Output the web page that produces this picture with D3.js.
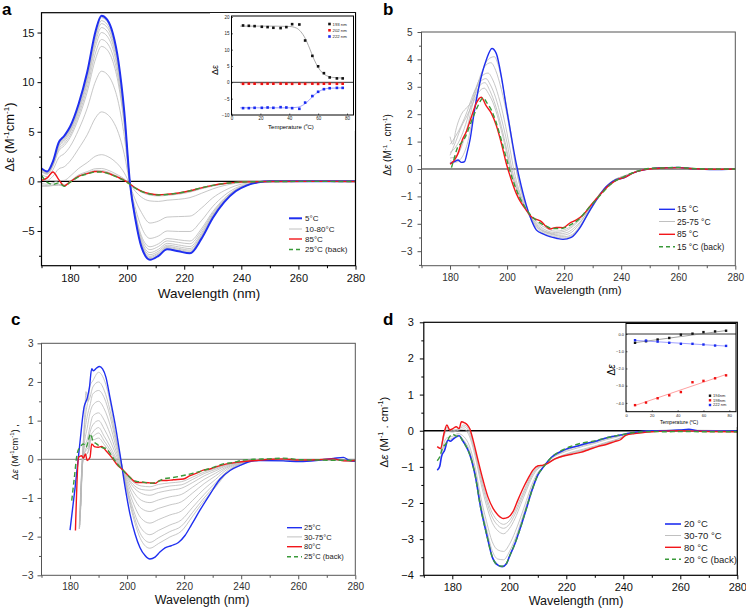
<!DOCTYPE html>
<html><head><meta charset="utf-8">
<script src="https://cdn.jsdelivr.net/npm/d3@7"></script>
<style>body{margin:0;background:#fff}svg{display:block}text{font-family:"Liberation Sans",Arial,Helvetica,sans-serif}</style>
</head><body><svg id="c" width="746" height="609"></svg>
<script>
// ---------------- DATA ----------------
// Panel a: shared wavelength grid (nm)
const waveA = [170,172,174,176,178,180,183,186,189,191,193,195,197,199,201,203,205,208,211,214,218,222,226,230,234,238,242,246,250,265,280];
const a5C   = [1.3,1.0,2.0,3.9,4.6,5.5,7.8,11.0,15.2,16.7,16.3,14.9,12.0,7.0,-0.2,-4.0,-6.6,-7.9,-7.5,-6.85,-7.05,-7.25,-5.8,-3.7,-2.1,-1.0,-0.4,-0.1,0,0.02,0];
const a85C  = [0.1,0.35,0.95,0.2,-0.45,-0.05,0.5,0.78,1.0,0.98,0.85,0.62,0.38,0.1,-0.27,-0.68,-0.98,-1.25,-1.35,-1.3,-1.17,-0.95,-0.65,-0.4,-0.22,-0.1,-0.05,-0.03,-0.02,0,-0.02];
const a25Back = [0.6,-0.1,-0.3,-0.15,-0.5,-0.1,0.45,0.75,0.95,0.95,0.82,0.6,0.35,0.08,-0.3,-0.7,-1.0,-1.28,-1.37,-1.32,-1.18,-0.95,-0.65,-0.4,-0.22,-0.1,-0.05,-0.03,-0.02,0,-0.02];
const aGray = [
 [1.28,0.98,1.97,3.84,4.53,5.43,7.71,10.87,15.02,16.5,16.1,14.71,11.85,6.91,-0.2,-3.96,-6.53,-7.81,-7.42,-6.78,-6.97,-7.17,-5.73,-3.66,-2.08,-0.99,-0.4,-0.1,0,0.02,0],
 [1.25,0.95,1.92,3.76,4.44,5.32,7.57,10.67,14.75,16.2,15.81,14.44,11.63,6.78,-0.2,-3.89,-6.42,-7.69,-7.3,-6.67,-6.86,-7.05,-5.64,-3.59,-2.04,-0.97,-0.39,-0.1,0,0.02,0],
 [1.21,0.93,1.88,3.68,4.34,5.21,7.43,10.48,14.48,15.9,15.51,14.17,11.41,6.65,-0.2,-3.83,-6.31,-7.56,-7.19,-6.57,-6.75,-6.93,-5.54,-3.53,-2.0,-0.95,-0.38,-0.1,0,0.02,0],
 [1.17,0.89,1.82,3.57,4.22,5.07,7.25,10.22,14.12,15.5,15.13,13.81,11.12,6.48,-0.21,-3.75,-6.17,-7.39,-7.03,-6.43,-6.6,-6.77,-5.41,-3.45,-1.96,-0.93,-0.37,-0.09,0,0.02,0],
 [1.12,0.84,1.74,3.44,4.05,4.9,7.01,9.9,13.67,15.0,14.63,13.36,10.75,6.25,-0.21,-3.64,-5.99,-7.18,-6.84,-6.25,-6.41,-6.57,-5.24,-3.34,-1.9,-0.9,-0.36,-0.09,0,0.02,0],
 [1.04,0.78,1.63,3.24,3.83,4.64,6.68,9.44,13.03,14.3,13.94,12.72,10.22,5.94,-0.21,-3.49,-5.74,-6.88,-6.56,-6.0,-6.15,-6.29,-5.01,-3.2,-1.81,-0.86,-0.35,-0.09,0,0.02,0],
 [0.97,0.71,1.53,3.05,3.61,4.4,6.36,8.99,12.4,13.6,13.26,12.09,9.71,5.64,-0.21,-3.35,-5.49,-6.59,-6.29,-5.76,-5.89,-6.01,-4.79,-3.05,-1.73,-0.82,-0.33,-0.09,0,0.02,0],
 [0.69,0.48,1.15,2.37,2.8,3.51,5.2,7.36,10.14,11.1,10.8,9.82,7.86,4.54,-0.22,-2.82,-4.6,-5.75,-5.5,-5.0,-5.05,-5.05,-3.97,-2.53,-1.43,-0.68,-0.28,-0.08,0,0.01,0],
 [0.25,0.11,0.52,1.25,1.48,2.04,3.3,4.69,6.44,7.0,6.77,6.09,4.83,2.74,-0.25,-1.95,-3.13,-4.2,-4.0,-3.6,-3.55,-3.5,-2.7,-1.66,-0.94,-0.44,-0.18,-0.06,-0.01,0.01,-0.01],
 [-0.21,-0.29,-0.14,0.07,0.1,0.51,1.3,1.89,2.55,2.69,2.53,2.18,1.65,0.85,-0.26,-1.04,-1.59,-1.97,-2.02,-1.9,-1.81,-1.64,-1.21,-0.76,-0.42,-0.2,-0.09,-0.04,-0.02,0,-0.02],
 [-0.37,-0.42,-0.35,-0.31,-0.35,0.01,0.65,0.98,1.28,1.3,1.16,0.91,0.61,0.24,-0.27,-0.75,-1.09,-1.38,-1.47,-1.41,-1.29,-1.08,-0.75,-0.47,-0.26,-0.12,-0.06,-0.03,-0.02,0,-0.02],
 [-0.5,-0.5,-0.42,-0.4,-0.45,-0.06,0.56,0.86,1.11,1.1,0.97,0.73,0.47,0.16,-0.27,-0.71,-1.03,-1.3,-1.4,-1.34,-1.22,-1.0,-0.69,-0.43,-0.24,-0.11,-0.05,-0.03,-0.02,0,-0.02]
];
// Panel a inset: temperature melt
const insetATemp = [8,12,16,21,25,29,34,38,42,47,51,56,60,64,68,73,77];
const insetA193 = [17.4,17.3,17.2,17.0,16.9,16.7,16.6,16.9,17.8,17.7,12.8,8.1,4.9,2.8,1.5,1.2,1.2];
const insetA202 = [-0.45,-0.4,-0.42,-0.45,-0.4,-0.42,-0.4,-0.43,-0.45,-0.42,-0.45,-0.4,-0.47,-0.42,-0.4,-0.44,-0.42];
const insetA222 = [-7.9,-7.9,-7.8,-7.8,-7.7,-7.8,-7.6,-7.7,-7.9,-8.1,-6.2,-4.2,-2.9,-2.1,-1.8,-1.7,-1.7];
const insetAFit193 = [[6,17.2],[20,17.2],[30,17.2],[40,17.1],[45,16.6],[48,15.5],[51,13.5],[54,10.5],[57,7.2],[60,4.6],[63,2.9],[66,2.0],[70,1.5],[78,1.3]];
const insetAFit202 = [[6,-0.42],[78,-0.42]];
const insetAFit222 = [[6,-7.8],[40,-7.8],[46,-7.6],[49,-7.1],[52,-6.2],[55,-4.9],[58,-3.6],[61,-2.7],[64,-2.1],[68,-1.8],[78,-1.7]];

// Panel b: [wavelength, value] pairs
const b15C = [[180,0.2],[181.6,0.27],[182.8,0.33],[184,0.24],[185.1,0.27],[186,0.6],[187,1.06],[188.6,2.15],[190.4,3.13],[192.7,3.98],[194.7,4.4],[196.2,4.22],[198,3.37],[199.7,2.27],[201.5,1.18],[203.2,0.2],[205,-0.64],[206.7,-1.31],[208.5,-1.86],[210.3,-2.23],[212.6,-2.37],[215,-2.47],[217.3,-2.53],[219.6,-2.57],[222.5,-2.5],[225.4,-2.17],[228.4,-1.62],[231.3,-1.13],[234.8,-0.64],[238,-0.4],[241,-0.32],[244,-0.15],[248,-0.03],[252,0.03],[256,0.05],[260,0.06],[264,0.02],[268,0.0],[272,-0.02],[280,0]];
const b85C = [[180,0.18],[181.6,0.33],[182.8,0.57],[184.3,1.06],[185.7,1.36],[187.5,1.91],[189.2,2.4],[190.9,2.62],[192.7,2.3],[194.5,2.03],[196.2,1.6],[198,0.94],[199.7,0.21],[201.5,-0.4],[203.2,-0.89],[205,-1.25],[206.7,-1.5],[208.5,-1.74],[210.8,-1.86],[212,-1.92],[213.2,-2.05],[215,-2.19],[217.3,-2.13],[219.6,-2.14],[221.9,-1.98],[224.3,-1.86],[226.6,-1.68],[229,-1.37],[232.5,-0.95],[235.9,-0.58],[238.9,-0.38],[241.8,-0.28],[244,-0.15],[248,-0.03],[252,0.02],[256,0.04],[260,0.05],[264,0.02],[268,0],[272,-0.01],[280,0]];
const b15Back = [[180.5,0.05],[181.5,0.4],[182.5,0.75],[184,0.95],[185.5,1.2],[187,1.6],[188.5,2.0],[190,2.35],[191.6,2.6],[193,2.4],[194.5,2.15],[196,1.75],[198,1.05],[200,0.3],[202,-0.4],[204,-0.95],[206,-1.35],[208,-1.65],[210,-1.85],[213,-2.05],[216,-2.17],[219,-2.17],[222,-2.05],[225,-1.85],[228,-1.5],[231,-1.15],[234,-0.8],[237,-0.5],[240,-0.33],[243,-0.18],[246,-0.07],[250,0.02],[255,0.04],[260,0.06],[265,0.02],[270,0],[280,0]];
const bGray = [
 [[180,0.3],[182,0.25],[184,0.4],[186,0.9],[188,1.9],[190,2.95],[192,3.75],[194,4.05],[195.5,4.1],[197,3.75],[199,2.75],[201,1.55],[203,0.1],[205,-0.8],[207,-1.45],[209,-1.95],[212,-2.3],[216,-2.45],[220,-2.52],[223,-2.42],[226,-2.05],[229,-1.55],[232,-1.05],[235,-0.62],[238,-0.38],[241,-0.3],[244,-0.15],[248,-0.03],[254,0.04],[260,0.05],[268,0],[280,0]],
 [[180,0.4],[182,0.45],[184,0.8],[186,1.5],[188,2.4],[190,3.2],[192,3.72],[194.3,3.88],[196,3.6],[198,2.9],[200,1.95],[202,0.75],[203.5,-0.15],[205,-0.85],[207,-1.45],[209,-1.9],[212,-2.25],[216,-2.4],[220,-2.47],[223,-2.38],[226,-2.0],[229,-1.52],[232,-1.03],[235,-0.62],[238,-0.38],[241,-0.3],[244,-0.15],[248,-0.03],[254,0.04],[260,0.05],[268,0],[280,0]],
 [[180,0.6],[182,0.8],[184,1.2],[186,1.8],[188,2.6],[190,3.2],[191.5,3.42],[193.3,3.5],[195,3.25],[197,2.65],[199,1.8],[201,0.75],[202.5,-0.1],[204,-0.7],[206,-1.3],[208,-1.75],[211,-2.15],[215,-2.35],[219,-2.42],[222,-2.35],[225,-2.05],[228,-1.6],[231,-1.12],[234,-0.72],[237,-0.45],[240,-0.3],[243,-0.18],[247,-0.05],[252,0.03],[260,0.05],[268,0],[280,0]],
 [[180,0.9],[182,1.2],[184,1.6],[186,2.1],[188,2.7],[190,3.1],[192.6,3.3],[194,3.1],[196,2.6],[198,1.85],[200,0.95],[201.8,-0.05],[203.5,-0.65],[205.5,-1.2],[208,-1.7],[211,-2.1],[214,-2.3],[218,-2.37],[221,-2.32],[224,-2.1],[227,-1.75],[230,-1.25],[233,-0.85],[236,-0.55],[239,-0.33],[242,-0.22],[246,-0.07],[252,0.03],[260,0.05],[268,0],[280,0]],
 [[180,1.18],[181,0.9],[182,1.4],[184,2.0],[186,2.25],[187.5,2.45],[189,2.75],[190.5,3.05],[192.2,3.15],[194,2.85],[196,2.3],[198,1.55],[200,0.65],[201.4,-0.05],[203,-0.6],[205,-1.15],[207.5,-1.65],[210,-1.95],[213,-2.2],[217,-2.32],[220,-2.28],[223,-2.1],[226,-1.8],[229,-1.4],[232,-0.98],[235,-0.62],[238,-0.38],[241,-0.27],[245,-0.1],[250,0.01],[258,0.05],[268,0],[280,0]],
 [[180,0.5],[182,1.0],[184,1.55],[186,1.95],[188,2.4],[190,2.8],[192,2.95],[193.5,2.75],[195.5,2.3],[197.5,1.6],[199.5,0.75],[201.2,-0.05],[203,-0.65],[205,-1.15],[207.5,-1.6],[210,-1.9],[213,-2.12],[217,-2.27],[220,-2.22],[223,-2.05],[226,-1.75],[229,-1.38],[232,-0.97],[235,-0.6],[238,-0.37],[241,-0.27],[245,-0.1],[250,0.01],[258,0.05],[268,0],[280,0]]
];

// Panel c
const c25C = [[180,-1.83],[181.8,-0.72],[183.3,0.31],[184.9,1.34],[186.1,1.6],[186.8,1.86],[187.6,2.34],[188.2,2.29],[189.3,2.36],[190.3,2.4],[191.4,2.34],[192.6,2.12],[194,1.6],[195.8,0.91],[197.5,0.14],[199.3,-0.72],[201,-1.41],[202.8,-1.93],[204.5,-2.28],[206.3,-2.49],[208,-2.58],[209.8,-2.53],[211.5,-2.4],[213.3,-2.29],[215.6,-2.23],[218,-2.15],[220.3,-1.97],[222.6,-1.69],[225.6,-1.31],[229.1,-0.9],[232.6,-0.51],[236.1,-0.29],[239.6,-0.16],[242.5,-0.07],[246.6,-0.03],[254.7,-0.04],[260.6,-0.06],[267.6,-0.02],[272.3,0.02],[275.8,0.05],[278,-0.03],[280,-0.05]];
const c80C = [[181.9,-1.84],[183,0.05],[184.1,0.09],[184.7,0.03],[185.4,0.14],[186,-0.03],[187,0.05],[187.6,0.4],[188.5,0.33],[189.9,0.31],[191.1,0.33],[192.6,0.22],[194.6,0.05],[196.3,-0.12],[198.7,-0.29],[200.4,-0.42],[202.2,-0.55],[203.4,-0.6],[205.7,-0.6],[208,-0.61],[209.8,-0.62],[211.5,-0.55],[213.9,-0.55],[216.2,-0.53],[219.7,-0.51],[222.1,-0.42],[224.4,-0.36],[226.7,-0.28],[229.1,-0.25],[231.4,-0.19],[234.9,-0.12],[238.4,-0.08],[241.9,-0.05],[245.4,-0.03],[250.1,0.0],[254.7,0.01],[260.6,-0.02],[266.4,-0.01],[272.3,0.01],[276,-0.04],[280,-0.03]];
const c25Back = [[180.6,-1.07],[181.4,-0.55],[182.6,0.18],[183.5,0.31],[184.7,0.4],[185.6,0.31],[186.4,0.48],[187.2,0.66],[188,0.48],[189.3,0.4],[191.1,0.31],[192.8,0.27],[194.6,0.09],[196.3,-0.09],[198.1,-0.25],[199.8,-0.38],[201.6,-0.51],[203.4,-0.57],[205.7,-0.59],[208,-0.62],[210.4,-0.59],[212.7,-0.51],[216.2,-0.47],[219.7,-0.42],[223.2,-0.36],[226.7,-0.29],[230.2,-0.21],[233.7,-0.12],[237.2,-0.08],[240.7,-0.02],[244.2,0],[248.9,0.01],[254.7,0.03],[260.6,-0.01],[267.6,-0.02],[280,-0.03]];
const cGray = [
 [[183.2,-1.8],[184,-0.4],[185,0.9],[185.6,1.75],[186.3,1.5],[187,1.9],[188,2.03],[190,2.25],[192,2.05],[194,1.5],[196,0.63],[198,-0.08],[200,-0.83],[202,-1.45],[205,-2.1],[208,-2.3],[211,-2.18],[215,-2.01],[219,-1.86],[223,-1.47],[227,-1.07],[231,-0.72],[235,-0.36],[240,-0.12],[246,-0.03],[255,-0.03],[265,-0.02],[280,-0.04]],
 [[183.3,-1.8],[184.1,-0.3],[185,0.8],[186,1.4],[187,1.6],[188,1.87],[190,2.0],[192,1.78],[194,1.27],[196,0.57],[198,-0.09],[200,-0.79],[202,-1.36],[205,-1.97],[208,-2.15],[211,-2.03],[215,-1.87],[219,-1.73],[223,-1.37],[227,-1.0],[231,-0.67],[235,-0.34],[240,-0.11],[246,-0.03],[255,-0.03],[265,-0.02],[280,-0.04]],
 [[183.4,-1.75],[184.2,-0.2],[185,0.6],[186,1.1],[187,1.4],[188,1.69],[190,1.78],[192,1.59],[194,1.12],[196,0.48],[198,-0.11],[200,-0.74],[202,-1.26],[205,-1.79],[208,-1.95],[211,-1.84],[215,-1.7],[219,-1.57],[223,-1.24],[227,-0.91],[231,-0.61],[235,-0.31],[240,-0.1],[246,-0.03],[255,-0.03],[265,-0.02],[280,-0.04]],
 [[183.5,-1.7],[184.3,-0.2],[185,0.4],[186,0.8],[187,1.2],[188,1.4],[190,1.5],[192,1.3],[194,0.9],[196,0.36],[198,-0.14],[200,-0.66],[202,-1.1],[205,-1.53],[208,-1.65],[211,-1.56],[215,-1.44],[219,-1.34],[223,-1.06],[227,-0.77],[231,-0.52],[235,-0.26],[240,-0.09],[246,-0.03],[255,-0.03],[265,-0.02],[280,-0.04]],
 [[183.5,-1.6],[184.3,-0.2],[185,0.3],[186,0.5],[187,0.85],[188,1.12],[190,1.2],[192,1.01],[194,0.67],[196,0.24],[198,-0.17],[200,-0.58],[202,-0.94],[205,-1.27],[208,-1.35],[211,-1.27],[215,-1.18],[219,-1.1],[223,-0.87],[227,-0.63],[231,-0.43],[235,-0.22],[240,-0.08],[246,-0.02],[255,-0.03],[265,-0.02],[280,-0.04]],
 [[183.6,-1.5],[184.4,-0.1],[185.2,0.2],[186.2,0.4],[187,0.7],[188,0.89],[190,1.0],[192,0.78],[194,0.49],[196,0.14],[198,-0.2],[200,-0.52],[202,-0.81],[205,-1.06],[208,-1.12],[211,-1.05],[215,-0.97],[219,-0.91],[223,-0.72],[227,-0.52],[231,-0.36],[235,-0.19],[240,-0.07],[246,-0.02],[255,-0.03],[265,-0.02],[280,-0.04]],
 [[183.6,-1.4],[184.4,0],[185.3,0.2],[186.3,0.3],[187.2,0.6],[188,0.7],[190,0.82],[192,0.59],[194,0.34],[196,0.05],[198,-0.22],[200,-0.47],[202,-0.7],[205,-0.88],[208,-0.93],[211,-0.86],[215,-0.8],[219,-0.75],[223,-0.6],[227,-0.43],[231,-0.3],[235,-0.16],[240,-0.06],[246,-0.02],[255,-0.03],[265,-0.02],[280,-0.04]],
 [[183.7,-1.3],[184.5,0],[185.5,0.1],[186.5,0.25],[187.3,0.55],[188,0.59],[190,0.68],[192,0.47],[194,0.25],[196,0.0],[198,-0.23],[200,-0.44],[202,-0.64],[205,-0.78],[208,-0.8],[211,-0.75],[215,-0.69],[219,-0.66],[223,-0.52],[227,-0.37],[231,-0.26],[235,-0.14],[240,-0.06],[246,-0.02],[255,-0.03],[265,-0.02],[280,-0.04]],
 [[183.8,-1.2],[184.6,0],[185.5,0.1],[186.5,0.2],[187.3,0.5],[188,0.5],[190,0.55],[192,0.38],[194,0.18],[196,-0.04],[198,-0.24],[200,-0.42],[202,-0.58],[205,-0.69],[208,-0.71],[211,-0.65],[215,-0.61],[219,-0.58],[223,-0.46],[227,-0.33],[231,-0.23],[235,-0.12],[240,-0.05],[246,-0.02],[255,-0.03],[265,-0.02],[280,-0.04]]
];

// Panel d
const d20C = [[174.7,-1.09],[175.6,-0.98],[176.2,-0.72],[177.3,-0.54],[178.5,-0.26],[179.3,-0.29],[180.2,-0.24],[181.4,-0.17],[182.4,-0.14],[183.5,-0.26],[184.9,-0.44],[186,-0.63],[188,-1.23],[190,-2.15],[192,-2.85],[194,-3.49],[196,-3.72],[197.5,-3.76],[199,-3.68],[200,-3.49],[202,-3.12],[204,-2.66],[206,-2.15],[208,-1.64],[210,-1.23],[212,-1.0],[215,-0.72],[218,-0.58],[221,-0.48],[224,-0.42],[227,-0.35],[230,-0.3],[233,-0.22],[236,-0.16],[239,-0.12],[242,-0.07],[246,-0.02],[250,0],[255,0.0],[260,0.02],[263,0.04],[266,0.0],[270,-0.01],[280,-0.01]];
const d80C = [[174.7,-0.44],[175.9,-0.49],[177.1,-0.07],[178.1,0.16],[179.1,0.02],[180.2,0.06],[181.4,0.11],[182.4,0.06],[183.2,0.25],[184.3,0.22],[185.3,0.16],[186.1,0.06],[187.3,-0.26],[189,-0.81],[190.8,-1.37],[192.5,-1.83],[194.3,-2.15],[196,-2.33],[198,-2.43],[199.5,-2.4],[201.3,-2.24],[203,-1.92],[204.8,-1.6],[206.6,-1.32],[208.3,-1.09],[210.1,-0.97],[211.9,-0.95],[213,-0.92],[216,-0.78],[219,-0.7],[222,-0.65],[225,-0.6],[228,-0.52],[231,-0.44],[234,-0.38],[237,-0.3],[239,-0.25],[241,-0.12],[244,-0.08],[247,-0.05],[250,-0.03],[255,-0.01],[260,0],[265,-0.01],[270,-0.02],[280,-0.03]];
const d20Back = [[174.7,-0.83],[175.6,-0.72],[176.5,-0.49],[177.9,-0.35],[179,-0.17],[180.2,-0.1],[181.4,-0.15],[182.4,-0.14],[183.5,-0.26],[184.9,-0.44],[186,-0.63],[188,-1.23],[190,-2.15],[192,-2.85],[194,-3.49],[196,-3.72],[197.5,-3.75],[199,-3.67],[200,-3.49],[202,-3.12],[204,-2.66],[206,-2.15],[208,-1.64],[210,-1.23],[212,-1.0],[215,-0.72],[218,-0.56],[221,-0.45],[225,-0.35],[230,-0.28],[235,-0.18],[240,-0.1],[244,-0.05],[250,-0.02],[255,-0.03],[260,-0.02],[270,-0.03],[280,-0.03]];
const waveDGray = [176,178,180,182,184,186,188,190,192,194,196,198,200,202,204,206,208,210,212,215,218,222,226,230,234,238,242,246,250,260,280];
const dGray = [
 [-0.71,-0.29,-0.21,-0.12,-0.26,-0.54,-1.14,-2.02,-2.71,-3.32,-3.55,-3.57,-3.35,-3.0,-2.55,-2.06,-1.58,-1.2,-0.99,-0.74,-0.6,-0.48,-0.4,-0.32,-0.22,-0.15,-0.07,-0.02,0,0.02,-0.01],
 [-0.66,-0.2,-0.16,-0.08,-0.16,-0.42,-1.0,-1.84,-2.51,-3.07,-3.3,-3.34,-3.15,-2.81,-2.39,-1.93,-1.48,-1.16,-0.99,-0.76,-0.63,-0.52,-0.43,-0.35,-0.25,-0.17,-0.08,-0.03,-0.01,0.01,-0.02],
 [-0.55,-0.01,-0.04,0.01,0.05,-0.15,-0.7,-1.44,-2.07,-2.54,-2.77,-2.85,-2.71,-2.43,-2.04,-1.65,-1.29,-1.06,-0.97,-0.81,-0.7,-0.59,-0.51,-0.42,-0.32,-0.23,-0.09,-0.05,-0.02,0.01,-0.02],
 [-0.51,0.05,0.0,0.03,0.11,-0.07,-0.61,-1.32,-1.94,-2.39,-2.62,-2.7,-2.59,-2.31,-1.94,-1.57,-1.23,-1.03,-0.96,-0.82,-0.71,-0.61,-0.54,-0.44,-0.34,-0.24,-0.09,-0.05,-0.02,0,-0.03],
 [-0.49,0.09,0.02,0.05,0.16,0.0,-0.54,-1.23,-1.84,-2.27,-2.5,-2.59,-2.49,-2.22,-1.86,-1.51,-1.18,-1.01,-0.96,-0.83,-0.73,-0.63,-0.55,-0.46,-0.36,-0.25,-0.1,-0.06,-0.03,0,-0.03]
];
// Panel d inset
const insetDTemp = [7,15.5,24.5,33.5,42.5,51.5,60,69,77.5];
const insetD194 = [-0.51,-0.42,-0.32,-0.23,-0.04,0.02,0.11,0.15,0.19];
const insetD198 = [-4.13,-3.98,-3.73,-3.56,-3.37,-2.8,-2.72,-2.57,-2.4];
const insetD222 = [-0.36,-0.38,-0.44,-0.51,-0.57,-0.57,-0.61,-0.67,-0.69];
const insetDFit194 = [[7,-0.5],[77.5,0.2]];
const insetDFit198 = [[7,-4.15],[77.5,-2.35]];
const insetDFit222 = [[7,-0.37],[77.5,-0.7]];

const xTicks = [180,200,220,240,260,280];
const xMinor = [170,190,210,230,250,270];
const legendA = ["5°C","10-80°C","85°C","25°C (back)"];
const legendB = ["15 °C","25-75 °C","85 °C","15 °C (back)"];
const legendC = ["25°C","30-75°C","80°C","25°C (back)"];
const legendD = ["20 °C","30-70 °C","80 °C","20 °C (back)"];

// ---------------- DRAW ----------------
const svg = d3.select("#c");
const BLUE="#1f2ff0", RED="#f2161a", GREEN="#3a9a3a", GRAY="#b9b9b9";
let clipN=0;
function rich(t, parts, fs){
  let shift=0;
  parts.forEach(([s,k])=>{
    const ts=t.append("tspan").text(s);
    if(k==='s'){ ts.attr("font-size",fs*0.62).attr("dy",-fs*0.42); shift+=fs*0.42; }
    else { if(shift){ts.attr("dy",shift); shift=0;} if(k==='i') ts.attr("font-style","italic"); }
  });
}
function panel(c){
  const g=svg.append("g");
  const x=d3.scaleLinear().domain([170,280]).range([c.x0,c.x1]);
  const y=d3.scaleLinear().domain(c.yd).range([c.y1,c.y0]);
  const id="clip"+(clipN++);
  g.append("clipPath").attr("id",id).append("rect").attr("x",c.x0).attr("y",c.y0).attr("width",c.x1-c.x0).attr("height",c.y1-c.y0);
  const pl=g.append("g").attr("clip-path",`url(#${id})`);
  pl.append("line").attr("x1",c.x0).attr("x2",c.x1).attr("y1",y(0)).attr("y2",y(0)).attr("stroke",c.zero).attr("stroke-width",c.zeroW);
  const line=d3.line().x(d=>x(d[0])).y(d=>y(d[1])).curve(d3.curveMonotoneX);
  c.gray.forEach(s=>pl.append("path").attr("d",line(s)).attr("fill","none").attr("stroke",GRAY).attr("stroke-width",0.8));
  pl.append("path").attr("d",line(c.blue)).attr("fill","none").attr("stroke",BLUE).attr("stroke-width",c.blueW);
  pl.append("path").attr("d",line(c.red)).attr("fill","none").attr("stroke",RED).attr("stroke-width",1.4);
  pl.append("path").attr("d",line(c.green)).attr("fill","none").attr("stroke",GREEN).attr("stroke-width",1.4).attr("stroke-dasharray","5,3");
  // axes
  const ax=g.append("g").attr("transform",`translate(0,${c.y1})`)
    .call(d3.axisBottom(x).tickValues(xTicks).tickSize(4).tickSizeOuter(0).tickPadding(c.xpad));
  const axm=g.append("g").attr("transform",`translate(0,${c.y1})`)
    .call(d3.axisBottom(x).tickValues(xMinor).tickSize(2.5).tickSizeOuter(0).tickFormat(""));
  const ay=g.append("g").attr("transform",`translate(${c.x0},0)`)
    .call(d3.axisLeft(y).tickValues(c.yt).tickSize(4).tickSizeOuter(0).tickPadding(c.ypad).tickFormat(d3.format("d")));
  const aym=g.append("g").attr("transform",`translate(${c.x0},0)`)
    .call(d3.axisLeft(y).tickValues(c.ym).tickSize(2.5).tickSizeOuter(0).tickFormat(""));
  [ax,axm,ay,aym].forEach(a=>{a.select(".domain").remove(); a.selectAll("line").attr("stroke",c.axc);
    a.selectAll("text").attr("font-size",c.tfs).attr("fill",c.tc).attr("font-family",'"Liberation Sans",Arial,sans-serif');});
  g.append("rect").attr("x",c.x0).attr("y",c.y0).attr("width",c.x1-c.x0).attr("height",c.y1-c.y0)
    .attr("fill","none").attr("stroke",c.axc).attr("stroke-width",c.frameW);
  // titles
  g.append("text").attr("x",c.xtx).attr("y",c.xty).attr("text-anchor","middle").attr("font-size",c.xtfs).attr("fill","#111").text("Wavelength (nm)");
  const yt=g.append("text").attr("transform",`translate(${c.ytx},${c.yty}) rotate(-90)`).attr("text-anchor","middle").attr("font-size",c.ytfs).attr("fill","#111");
  rich(yt,c.ytParts,c.ytfs);
  g.append("text").attr("x",c.lx).attr("y",c.ly).attr("font-size",17).attr("font-weight","bold").text(c.letter);
  // legend
  const cols=[[BLUE,c.blueW,null],[GRAY,0.9,null],[RED,1.4,null],[GREEN,1.4,"4,3"]];
  c.leg.forEach((lab,i)=>{
    const yy=c.legY[i];
    g.append("line").attr("x1",c.legX0).attr("x2",c.legX1).attr("y1",yy).attr("y2",yy).attr("stroke",cols[i][0]).attr("stroke-width",cols[i][1]).attr("stroke-dasharray",cols[i][2]);
    g.append("text").attr("x",c.legTx).attr("y",yy+c.legFs*0.36).attr("font-size",c.legFs).attr("fill","#222").text(lab);
  });
  return {x,y};
}
function inset(c){
  const g=svg.append("g");
  g.append("rect").attr("x",c.bx0).attr("y",c.by0).attr("width",c.bx1-c.bx0).attr("height",c.by1-c.by0).attr("fill","#fff");
  const x=d3.scaleLinear().domain(c.xd).range([c.x0,c.x1]);
  const y=d3.scaleLinear().domain(c.yd).range([c.y1,c.y0]);
  g.append("line").attr("x1",c.x0).attr("x2",c.x1).attr("y1",y(0)).attr("y2",y(0)).attr("stroke","#000").attr("stroke-width",0.8);
  const line=d3.line().x(d=>x(d[0])).y(d=>y(d[1])).curve(d3.curveMonotoneX);
  c.fits.forEach(([s,col])=>g.append("path").attr("d",line(s)).attr("fill","none").attr("stroke",col).attr("stroke-width",0.7));
  c.pts.forEach(([vals,col])=>{
    g.selectAll(null).data(d3.zip(c.temps,vals)).enter().append("rect")
      .attr("x",d=>x(d[0])-c.ms/2).attr("y",d=>y(d[1])-c.ms/2).attr("width",c.ms).attr("height",c.ms).attr("fill",col);
  });
  const ax=g.append("g").attr("transform",`translate(0,${c.y1})`).call(d3.axisBottom(x).tickValues(c.xt).tickSize(-1.5).tickSizeOuter(0).tickPadding(2));
  const ay=g.append("g").attr("transform",`translate(${c.x0},0)`).call(d3.axisLeft(y).tickValues(c.yt).tickSize(-1.5).tickSizeOuter(0).tickPadding(2));
  [ax,ay].forEach(a=>{a.select(".domain").remove(); a.selectAll("line").attr("stroke","#000").attr("stroke-width",0.6);
    a.selectAll("text").attr("font-size",c.tfs).attr("fill","#222");});
  g.append("rect").attr("x",c.x0).attr("y",c.y0).attr("width",c.x1-c.x0).attr("height",c.y1-c.y0).attr("fill","none").attr("stroke","#000").attr("stroke-width",1);
  const yl=g.append("text").attr("transform",`translate(${c.ylx},${c.yly}) rotate(-90)`).attr("text-anchor","middle").attr("font-size",c.ylfs);
  rich(yl,[["Δ","n"],["ε",c.italic?"i":"n"]],c.ylfs);
  const xl=g.append("text").attr("x",c.xlx).attr("y",c.xly).attr("text-anchor","middle").attr("font-size",c.xlfs);
  rich(xl,[["Temperature (","n"],["o","s"],["C)","n"]],c.xlfs);
  c.leg.forEach((lab,i)=>{
    const yy=c.legY[i];
    g.append("rect").attr("x",c.legX-c.ms/2).attr("y",yy-c.ms/2).attr("width",c.ms).attr("height",c.ms).attr("fill",c.pts[i][1]);
    g.append("text").attr("x",c.legX+3).attr("y",yy+c.legFs*0.36).attr("font-size",c.legFs).attr("fill","#222").text(lab);
  });
}
const zipA = arr => d3.zip(waveA, arr);
const zipD = arr => d3.zip(waveDGray, arr);

panel({x0:41.5,x1:355.5,y0:12.7,y1:265.7,yd:[-8.5,17],yt:[-5,0,5,10,15],ym:[-7.5,-2.5,2.5,7.5,12.5],
  gray:aGray.map(zipA),blue:zipA(a5C),red:zipA(a85C),green:zipA(a25Back),blueW:2,
  zero:"#000",zeroW:1.2,axc:"#000",tc:"#111",frameW:1.2,tfs:11,xpad:5,ypad:3,
  xtx:209,xty:298,xtfs:13.5,ytx:14,yty:137,ytfs:13,
  ytParts:[["Δε (M","n"],["-1","s"],["cm","n"],["-1","s"],[")","n"]],
  lx:2,ly:15,letter:"a",leg:legendA,legY:[218.3,229,239,249.5],legX0:289,legX1:302,legTx:305,legFs:8});
inset({bx0:210,bx1:355,by0:13,by1:131,x0:231.5,x1:353.5,y0:16,y1:115,xd:[0,84.5],yd:[-10,20.3],
  xt:[0,20,40,60,80],yt:[-10,-5,0,5,10,15,20],tfs:4.5,ms:2.6,temps:insetATemp,
  pts:[[insetA193,"#111"],[insetA202,"#f01010"],[insetA222,"#1a2cf0"]],
  fits:[[insetAFit193,"#888"],[insetAFit202,"#f88"],[insetAFit222,"#77f"]],
  ylx:218,yly:70,ylfs:9,italic:false,xlx:291,xly:129,xlfs:6,
  leg:["193 nm","202 nm","222 nm"],legY:[24,30.3,36.5],legX:329.5,legFs:4.3});

panel({x0:421.5,x1:735.3,y0:32,y1:265.7,yd:[-3.53,5],yt:[-3,-2,-1,0,1,2,3,4,5],ym:[-3.5,-2.5,-1.5,-0.5,0.5,1.5,2.5,3.5,4.5],
  gray:bGray,blue:b15C,red:b85C,green:b15Back,blueW:1.4,
  zero:"#222",zeroW:1,axc:"#555",tc:"#333",frameW:1,tfs:10,xpad:4,ypad:5,
  xtx:578,xty:294,xtfs:11.5,ytx:391,yty:145,ytfs:10,
  ytParts:[["Δ","n"],["ε","i"],[" (M","n"],["-1","s"],[" . cm","n"],["-1","s"],[")","n"]],
  lx:383,ly:15,letter:"b",leg:legendB,legY:[209.3,221.5,234.3,246.7],legX0:659,legX1:675,legTx:677,legFs:8.5});

panel({x0:41.5,x1:355.3,y0:343.3,y1:575.3,yd:[-3,3],yt:[-3,-2,-1,0,1,2,3],ym:[-2.5,-1.5,-0.5,0.5,1.5,2.5],
  gray:cGray,blue:c25C,red:c80C,green:c25Back,blueW:1.4,
  zero:"#777",zeroW:1,axc:"#555",tc:"#333",frameW:1,tfs:10,xpad:4,ypad:4,
  xtx:202,xty:604,xtfs:12.5,ytx:18,yty:452,ytfs:9.5,
  ytParts:[["Δ","n"],["ε","i"],[" (M","n"],["-1","s"],["cm","n"],["-1","s"],[") ,","n"]],
  lx:11,ly:325,letter:"c",leg:legendC,legY:[527.7,536.9,546.7,556.7],legX0:287,legX1:302,legTx:304,legFs:7.5});

panel({x0:423.8,x1:737.3,y0:322.3,y1:575.3,yd:[-4,3],yt:[-4,-3,-2,-1,0,1,2,3],ym:[-3.5,-2.5,-1.5,-0.5,0.5,1.5,2.5],
  gray:dGray.map(zipD),blue:d20C,red:d80C,green:d20Back,blueW:1.6,
  zero:"#000",zeroW:1.4,axc:"#000",tc:"#111",frameW:1.2,tfs:11,xpad:4,ypad:6,
  xtx:576,xty:604.5,xtfs:12.5,ytx:388,yty:432,ytfs:11.5,
  ytParts:[["Δ","n"],["ε","i"],[" (M","n"],["-1","s"],[" . cm","n"],["-1","s"],[")","n"]],
  lx:383,ly:325,letter:"d",leg:legendD,legY:[524,535.5,547.3,559.3],legX0:665,legX1:681,legTx:684,legFs:9.5});
inset({bx0:608,bx1:736.5,by0:323.3,by1:427,x0:626,x1:736,y0:323.5,y1:411.7,xd:[0,85.2],yd:[-4.51,0.61],
  xt:[0,20,40,60,80],yt:[-4,-3,-2,-1,0],tfs:4,ms:2.4,temps:insetDTemp,
  pts:[[insetD194,"#111"],[insetD198,"#f01010"],[insetD222,"#1a2cf0"]],
  fits:[[insetDFit194,"#777"],[insetDFit198,"#f77"],[insetDFit222,"#77f"]],
  ylx:615,yly:370,ylfs:10,italic:true,xlx:679,xly:424,xlfs:5,
  leg:["194nm","198nm","222 nm"],legY:[395.7,400.3,405],legX:710,legFs:4});
</script></body></html>
